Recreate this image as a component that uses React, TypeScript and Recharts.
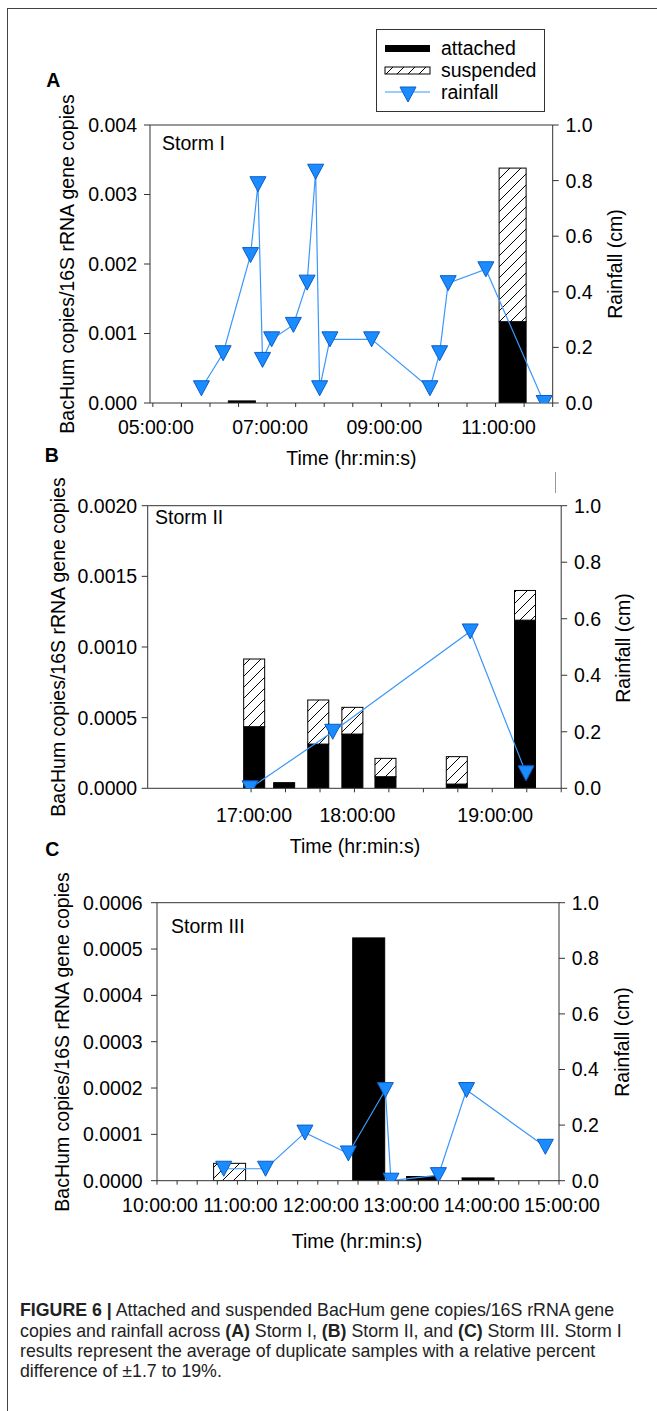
import React from 'react'
import { ComposedChart, Bar, Line, XAxis, YAxis, ReferenceLine } from 'recharts'

const FONT = '"Liberation Sans", Arial, Helvetica, sans-serif'
const AXIS = '#333'
const LINE_BLUE = '#3a97fb'
const TRI_FILL = '#1a8cff'
const TRI_EDGE = '#0b5cc8'

// ---- Storm I (hours of the day) ----
const stormIBarTimes = [6.56, 11.3]
const stormIAttached = [0.00003, 0.00117]
const stormISuspended = [0, 0.00221]
const stormIRainTimes = [5.85, 6.23, 6.71, 6.84, 6.92, 7.08, 7.46, 7.7, 7.85, 7.92, 8.1, 8.83, 9.85, 10.02, 10.17, 10.83, 11.85]
const stormIRain = [0.053, 0.179, 0.532, 0.787, 0.155, 0.229, 0.281, 0.433, 0.832, 0.053, 0.229, 0.229, 0.053, 0.179, 0.431, 0.481, 0]
const stormITicks = [5, 5.5, 6, 6.5, 7, 7.5, 8, 8.5, 9, 9.5, 10, 10.5, 11, 11.5, 12]
const stormITickLabels = ['05:00:00', '', '', '', '07:00:00', '', '', '', '09:00:00', '', '', '', '11:00:00', '', '']
const stormIYTicks = [0, 0.001, 0.002, 0.003, 0.004]

// ---- Storm II ----
const stormIIBarTimes = [17.03, 17.32, 17.65, 17.98, 18.3, 18.99, 19.65]
const stormIIAttached = [0.000436, 0.00004, 0.000313, 0.000384, 0.000082, 0.00003, 0.00119]
const stormIISuspended = [0.000479, 0, 0.000312, 0.000189, 0.00013, 0.000194, 0.00021]
const stormIIRainTimes = [16.99, 17.79, 19.12, 19.66]
const stormIIRain = [0, 0.2, 0.555, 0.053]
const stormIITicks = [17, 17.333, 17.667, 18, 18.333, 18.667, 19, 19.333, 19.667, 20]
const stormIITickLabels = ['17:00:00', '', '', '18:00:00', '', '', '', '19:00:00', '', '']
const stormIIYTicks = [0, 0.0005, 0.001, 0.0015, 0.002]

// ---- Storm III ----
const stormIIIBarTimes = [10.9, 12.63, 13.3, 13.99]
const stormIIIAttached = [0, 0.000524, 0.000009, 0.000006]
const stormIIISuspended = [0.0000375, 0, 0, 0]
const stormIIIRainTimes = [10.83, 11.35, 11.84, 12.38, 12.84, 12.91, 13.5, 13.85, 14.83]
const stormIIIRain = [0.043, 0.043, 0.173, 0.098, 0.326, 0, 0.02, 0.326, 0.122]
const stormIIITicks = [10, 10.25, 10.5, 10.75, 11, 11.25, 11.5, 11.75, 12, 12.25, 12.5, 12.75, 13, 13.25, 13.5, 13.75, 14, 14.25, 14.5, 14.75, 15]
const stormIIITickLabels = ['10:00:00', '', '', '', '11:00:00', '', '', '', '12:00:00', '', '', '', '13:00:00', '', '', '', '14:00:00', '', '', '', '15:00:00']
const stormIIIYTicks = [0, 0.0001, 0.0002, 0.0003, 0.0004, 0.0005, 0.0006]

const rainTicks = [0, 0.2, 0.4, 0.6, 0.8, 1]

const barRows = (times: number[], att: number[], sus: number[]) =>
  times.map((t, i) => ({ t, attached: att[i], suspended: sus[i] }))
const rainRows = (times: number[], vals: number[]) =>
  times.map((t, i) => ({ t, rain: vals[i] }))

function Hatch({ id }: { id: string }) {
  return (
    <defs>
      <pattern id={id} patternUnits="userSpaceOnUse" width={11} height={11}>
        <rect width={11} height={11} fill="#fff" />
        <path d="M0,11L11,0M-3,3L3,-3M8,14L14,8" stroke="#000" strokeWidth={1} />
      </pattern>
    </defs>
  )
}

const barShape = (w: number, hatchId?: string) => (props: any) => {
  const { x, y, width, height } = props
  if (!height || height <= 0) return <g />
  const cx = x + width / 2
  return (
    <g>
      {hatchId && <Hatch id={hatchId} />}
      <rect
        x={cx - w / 2}
        y={y}
        width={w}
        height={height}
        fill={hatchId ? `url(#${hatchId})` : '#000'}
        stroke="#000"
        strokeWidth={1}
      />
    </g>
  )
}

const renderTriangle = (props: any) => {
  const { cx, cy, index } = props
  if (cx == null || cy == null) return <g key={`t-${index}`} />
  return (
    <path
      key={`t-${index}`}
      d={`M${cx - 8},${cy - 7.5}L${cx + 8},${cy - 7.5}L${cx},${cy + 7.5}Z`}
      fill={TRI_FILL}
      stroke={TRI_EDGE}
      strokeWidth={1}
    />
  )
}

interface PanelProps {
  id: string
  top: number
  height: number
  margin: { top: number; right: number; bottom: number; left: number }
  bars: { t: number; attached: number; suspended: number }[]
  rain: { t: number; rain: number }[]
  xDomain: [number, number]
  xTicks: number[]
  xLabels: string[]
  xTickMargin: number
  yTicks: number[]
  yDigits: number
  leftTickMargin: number
  barWidth: number
}

function StormPanel(p: PanelProps) {
  const tickStyle = { fill: '#000', fontSize: 19.5, fontFamily: FONT }
  const yMax = p.yTicks[p.yTicks.length - 1]
  return (
    <div style={{ position: 'absolute', left: 0, top: p.top }}>
      <ComposedChart width={657} height={p.height} data={p.bars} margin={p.margin}>
        <XAxis
          type="number"
          dataKey="t"
          domain={p.xDomain}
          ticks={p.xTicks}
          interval={0}
          allowDataOverflow
          tickFormatter={(v: number) => {
            const i = p.xTicks.findIndex(t => Math.abs(t - v) < 1e-6)
            return i >= 0 ? p.xLabels[i] : ''
          }}
          tick={{ ...tickStyle, dx: 3 }}
          tickSize={4}
          tickMargin={p.xTickMargin}
          stroke={AXIS}
          height={40}
        />
        <YAxis
          yAxisId="left"
          domain={[0, yMax]}
          ticks={p.yTicks}
          interval={0}
          allowDataOverflow
          tickFormatter={(v: number) => v.toFixed(p.yDigits)}
          tick={tickStyle}
          tickSize={6}
          tickMargin={p.leftTickMargin}
          stroke={AXIS}
          width={60}
        />
        <YAxis
          yAxisId="right"
          orientation="right"
          domain={[0, 1]}
          ticks={rainTicks}
          interval={0}
          allowDataOverflow
          tickFormatter={(v: number) => v.toFixed(1)}
          tick={tickStyle}
          tickSize={6}
          tickMargin={6.7}
          stroke={AXIS}
          width={60}
        />
        <ReferenceLine yAxisId="left" y={yMax} stroke={AXIS} strokeWidth={1} />
        <Bar yAxisId="left" dataKey="attached" stackId="s" shape={barShape(p.barWidth)} isAnimationActive={false} />
        <Bar yAxisId="left" dataKey="suspended" stackId="s" shape={barShape(p.barWidth, `hatch-${p.id}`)} isAnimationActive={false} />
        <Line
          yAxisId="right"
          data={p.rain}
          dataKey="rain"
          type="linear"
          stroke={LINE_BLUE}
          strokeWidth={1.2}
          dot={renderTriangle}
          activeDot={false}
          isAnimationActive={false}
        />
      </ComposedChart>
    </div>
  )
}

function Txt({ x, y, children, size = 19.5, rotate = 0, left = false, bold = false }: any) {
  return (
    <div
      style={{
        position: 'absolute',
        left: x,
        top: y,
        transform: `translate(${left ? '0' : '-50%'}, -50%) rotate(${rotate}deg)`,
        fontFamily: FONT,
        fontSize: size,
        fontWeight: bold ? 700 : 400,
        lineHeight: 1,
        whiteSpace: 'nowrap',
        color: '#000',
      }}
    >
      {children}
    </div>
  )
}

function LegendBox() {
  return (
    <svg width={170} height={84} style={{ position: 'absolute', left: 376, top: 29 }}>
      <Hatch id="hatch-legend" />
      <rect x={0.5} y={0.5} width={168} height={82} fill="#fff" stroke={AXIS} />
      <rect x={9} y={16} width={45} height={7} fill="#000" />
      <text x={65} y={26} fontFamily={FONT} fontSize={19.5}>attached</text>
      <rect x={9} y={38} width={45} height={7} fill="url(#hatch-legend)" stroke="#000" />
      <text x={65} y={48} fontFamily={FONT} fontSize={19.5}>suspended</text>
      <line x1={9} y1={63} x2={54} y2={63} stroke={LINE_BLUE} strokeWidth={1.2} />
      <path d="M24,58L40,58L32,73Z" fill={TRI_FILL} stroke={TRI_EDGE} />
      <text x={65} y={70} fontFamily={FONT} fontSize={19.5}>rainfall</text>
    </svg>
  )
}

const Y_TITLE = 'BacHum copies/16S rRNA gene copies'

export default function App() {
  const cap = { fontFamily: FONT, fontSize: 17.75, color: '#222', lineHeight: 1, whiteSpace: 'nowrap' as const, position: 'absolute' as const, left: 20 }
  return (
    <div style={{ position: 'absolute', left: 0, top: 0, width: 657, height: 1411, overflow: 'hidden', background: '#fff' }}>
      <div style={{ position: 'absolute', left: 7, top: 8, width: 700, height: 1500, borderLeft: '1px solid #444', borderTop: '1px solid #444' }} />

      <StormPanel
        id="a"
        top={95}
        height={385}
        margin={{ top: 30, right: 44.3, bottom: 37, left: 90 }}
        bars={barRows(stormIBarTimes, stormIAttached, stormISuspended)}
        rain={rainRows(stormIRainTimes, stormIRain)}
        xDomain={[4.95, 12]}
        xTicks={stormITicks}
        xLabels={stormITickLabels}
        xTickMargin={13}
        yTicks={stormIYTicks}
        yDigits={3}
        leftTickMargin={7}
        barWidth={27}
      />
      <StormPanel
        id="b"
        top={480}
        height={380}
        margin={{ top: 25.7, right: 35.8, bottom: 31.7, left: 87.7 }}
        bars={barRows(stormIIBarTimes, stormIIAttached, stormIISuspended)}
        rain={rainRows(stormIIRainTimes, stormIIRain)}
        xDomain={[16, 20]}
        xTicks={stormIITicks}
        xLabels={stormIITickLabels}
        xTickMargin={15.7}
        yTicks={stormIIYTicks}
        yDigits={4}
        leftTickMargin={4.5}
        barWidth={21}
      />
      <StormPanel
        id="c"
        top={875}
        height={380}
        margin={{ top: 27.7, right: 38, bottom: 34.3, left: 97 }}
        bars={barRows(stormIIIBarTimes, stormIIIAttached, stormIIISuspended)}
        rain={rainRows(stormIIIRainTimes, stormIIIRain)}
        xDomain={[10, 15]}
        xTicks={stormIIITicks}
        xLabels={stormIIITickLabels}
        xTickMargin={13.3}
        yTicks={stormIIIYTicks}
        yDigits={4}
        leftTickMargin={8.4}
        barWidth={32}
      />

      <LegendBox />

      <Txt x={53.4} y={80.8} bold>A</Txt>
      <Txt x={67.5} y={264} rotate={-90}>{Y_TITLE}</Txt>
      <Txt x={616} y={264} rotate={-90}>Rainfall (cm)</Txt>
      <Txt x={351.4} y={459}>Time (hr:min:s)</Txt>
      <Txt x={162} y={144} left>Storm I</Txt>

      <Txt x={51.7} y={455.8} bold>B</Txt>
      <Txt x={59} y={647} rotate={-90}>{Y_TITLE}</Txt>
      <Txt x={623.6} y={647.5} rotate={-90}>Rainfall (cm)</Txt>
      <Txt x={355} y={846.7}>Time (hr:min:s)</Txt>
      <Txt x={155} y={518} left>Storm II</Txt>
      <div style={{ position: 'absolute', left: 554.5, top: 471.7, width: 1, height: 21.6, background: '#999' }} />

      <Txt x={52.3} y={849.7} bold>C</Txt>
      <Txt x={63.3} y={1041.7} rotate={-90}>{Y_TITLE}</Txt>
      <Txt x={622.8} y={1041.7} rotate={-90}>Rainfall (cm)</Txt>
      <Txt x={357} y={1242}>Time (hr:min:s)</Txt>
      <Txt x={171} y={926.7} left>Storm III</Txt>

      <div style={{ ...cap, top: 1302 }}>
        <b>FIGURE 6 |</b> Attached and suspended BacHum gene copies/16S rRNA gene
      </div>
      <div style={{ ...cap, top: 1322.5 }}>
        copies and rainfall across <b>(A)</b> Storm I, <b>(B)</b> Storm II, and <b>(C)</b> Storm III. Storm I
      </div>
      <div style={{ ...cap, top: 1343 }}>
        results represent the average of duplicate samples with a relative percent
      </div>
      <div style={{ ...cap, top: 1363 }}>
        difference of ±1.7 to 19%.
      </div>
    </div>
  )
}
